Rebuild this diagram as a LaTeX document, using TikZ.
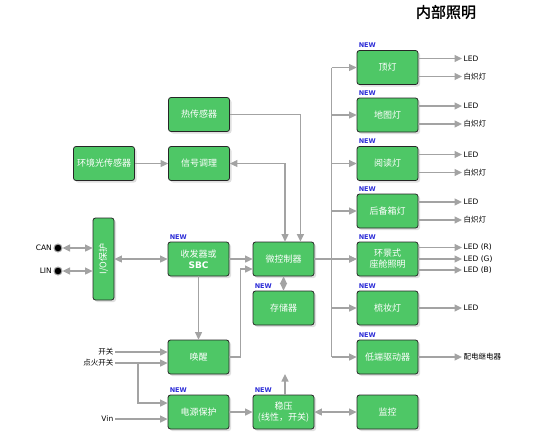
\documentclass[tikz,border=0pt]{standalone}
\usepackage{fontspec}
\usepackage{xcolor}
\newfontfamily\cjk{Noto Sans CJK SC}
\newfontfamily\cjkhead[FakeBold=1.5]{Noto Sans CJK SC}
\newfontfamily\lat{DejaVu Sans}
\usetikzlibrary{arrows.meta,shadows}
\definecolor{boxgreen}{RGB}{78,199,102}
\definecolor{linegray}{RGB}{163,163,163}
\definecolor{newblue}{RGB}{45,45,215}
\tikzset{
  gtip/.tip={Triangle[length=7.5pt,width=7pt]},
  line/.style={draw=linegray, line width=1.3pt},
  arr/.style={line, -gtip},
  darr/.style={line, gtip-gtip},
  blk/.style={draw=black!85, line width=0.8pt, fill=boxgreen, rounded corners=2.5pt,
    minimum width=61pt, minimum height=34pt, inner sep=1pt, align=center, text=white,
    font=\cjk\fontsize{9}{11}\selectfont,
    drop shadow={shadow xshift=2pt, shadow yshift=-2pt, fill=black!18, opacity=0.7}},
  newlbl/.style={anchor=south west, inner sep=1pt, xshift=1pt, yshift=1pt, text=newblue,
    font=\lat\bfseries\fontsize{6.5}{7}\selectfont},
  lbl/.style={anchor=west, inner sep=1.5pt, font=\lat\fontsize{7.5}{9}\selectfont},
  term/.style={circle, fill=black, draw=black!35, line width=1pt, minimum size=8pt, inner sep=0pt}
}
\begin{document}
\begin{tikzpicture}[x=1pt,y=-1pt]
    \useasboundingbox (0,0) rectangle (556,445);
    \node[font=\cjkhead\fontsize{15}{15}\selectfont] (title) at (446,12) {内部照明};

    \foreach \i/\y/\t in {1/67.5/顶灯,2/115/地图灯,3/163.5/阅读灯,4/211/后备箱灯,5/259/{环景式\\座舱照明},6/308/梳妆灯,7/357/低端驱动器}{
        \node[blk] (l\i) at (387.5,\y) {\t};
        \node[newlbl] (n\i) at (l\i.north west) {NEW};
        \draw[arr] ([xshift=-25pt]l\i.west) -- (l\i.west);
    }
    \draw[line] ([xshift=-25pt]l1.west) -- ([xshift=-25pt]l7.west);

    \foreach \i/\y in {1/67.5,2/115,3/163.5,4/211}{
        \node[lbl] (a\i) at (462,\y-9) {LED};
        \node[lbl] (b\i) at (462,\y+9) {\cjk 白炽灯};
        \draw[arr] (l\i.east |- a\i) -- (a\i.west);
        \draw[arr] (l\i.east |- b\i) -- (b\i.west);
    }
    \node[lbl] (r5) at (462,247.5) {LED (R)};
    \node[lbl] (g5) at (462,259) {LED (G)};
    \node[lbl] (b5) at (462,270) {LED (B)};
    \node[lbl] (a6) at (462,308) {LED};
    \node[lbl] (a7) at (462,357) {\cjk 配电继电器};
    \foreach \o in {r5,g5,b5}
        \draw[arr] (l5.east |- \o) -- (\o.west);
    \draw[arr] (l6) -- (a6);
    \draw[arr] (l7) -- (a7);

    \node[blk] (hot) at (199,114.5) {热传感器};
    \node[blk] (sig) at (199,163.5) {信号调理};
    \node[blk] (amb) at (104,163.5) {环境光传感器};
    \node[blk] (sbc) at (198.5,259) {收发器或\\{\lat\bfseries SBC}};
    \node[blk] (mcu) at (283.5,259) {微控制器};
    \node[blk] (mem) at (283.5,308) {存储器};
    \node[blk] (wake) at (198.5,357) {唤醒};
    \node[blk] (pwr) at (198.5,412) {电源保护};
    \node[blk] (reg) at (283.5,412) {稳压\\(线性，开关)};
    \node[blk] (mon) at (387.5,412) {监控};
    \node[blk, minimum width=21pt, minimum height=82pt] (io) at (103.5,259) {\rotatebox{90}{I/O保护}};
    \foreach \b in {sbc,mem,pwr,reg}
        \node[newlbl] (n\b) at (\b.north west) {NEW};

    \draw[arr] (amb) -- (sig);
    \draw[arr] (hot.east) -| ([xshift=-14pt]mcu.north east);
    \draw[darr] (sig.east) -| ([xshift=1.5pt]mcu.north);
    \draw[arr] (sbc) -- (mcu);
    \draw[darr] (mcu) -- (mem);
    \draw[darr] (io) -- (sbc);
    \draw[arr] (sbc) -- (wake);
    \draw[arr] (wake.east) -- ++(11,0) |- ([yshift=-10pt]mcu.west);
    \draw[arr] (mcu) -- (l5);
    \draw[arr] (pwr) -- (reg);
    \draw[darr] (reg) -- (mon);
    \coordinate (regout) at (285,374);
    \draw[arr] (reg.north -| regout) -- (regout);

    \node[term] (can) at (58,248) {};
    \node[term] (lin) at (58,271) {};
    \node[lbl, anchor=east] (canl) at (can.west) {CAN};
    \node[lbl, anchor=east] (linl) at (lin.west) {LIN};
    \draw[darr] (can) -- (io.west |- can);
    \draw[darr] (lin) -- (io.west |- lin);

    \node[lbl, anchor=east] (sw) at (115,352) {\cjk 开关};
    \node[lbl, anchor=east] (ign) at (115,363) {\cjk 点火开关};
    \node[lbl, anchor=east] (vin) at (115,419) {Vin};
    \draw[arr] (sw) -- (sw -| wake.west);
    \draw[arr] (ign) -- (ign -| wake.west);
    \draw[arr] ([xshift=23pt]ign.east) |- ([yshift=9pt]pwr.west);
    \draw[arr] (vin) -- (vin -| pwr.west);
\end{tikzpicture}
\end{document}
